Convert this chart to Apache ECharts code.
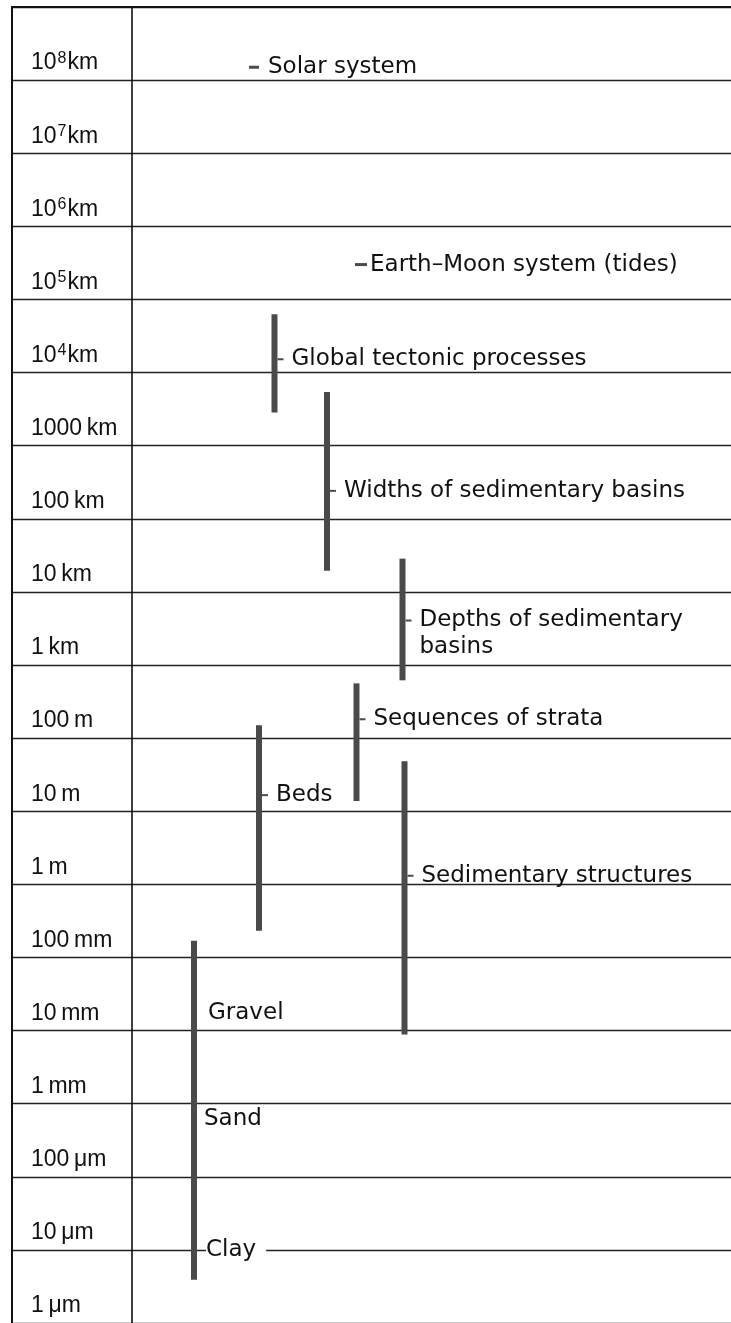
<!DOCTYPE html>
<html>
<head>
<meta charset="utf-8">
<script src="https://cdn.jsdelivr.net/npm/echarts@6/dist/echarts.min.js"></script>
<style>
html,body{margin:0;padding:0;background:#fff;}
#c{width:731px;height:1323px;}
</style>
</head>
<body>
<div id="c"></div>
<script>
// ---------------- data (lengths in metres) ----------------
const scaleLabels = ['1 μm','10 μm','100 μm','1 mm','10 mm','100 mm','1 m','10 m','100 m',
  '1 km','10 km','100 km','1000 km','10^4 km','10^5 km','10^6 km','10^7 km','10^8 km'];
const scaleMinExp = -6;
const scaleMaxExp = 12;

const rangeNames = ['Global tectonic processes','Widths of sedimentary basins',
  'Depths of sedimentary\nbasins','Sequences of strata','Beds','Sedimentary structures'];
const rangeLow     = [2.84e6, 1.95e4, 617, 13.8, 0.232, 0.0088];
const rangeHigh    = [6.27e7, 5.41e6, 2.85e4, 561, 150, 48.4];
const rangeLabelAt = [1.52e7, 2.41e5, 4.06e3, 181, 16.6, 1.31];

const grainLow = 3.89e-6;
const grainHigh = 0.169;
const grainClasses = ['Gravel','Sand','Clay'];
const grainLabelAt = [0.0176, 6.1e-4, 1e-5];

const pointNames  = ['Solar system','Earth–Moon system (tides)'];
const pointValues = [1.5e11, 3.0e8];

// ---------------- layout (page x positions) ----------------
const layout = {
  divider: 132,
  rangeX: [274.5, 327, 402.5, 356.5, 259, 404.5],
  grainX: 194,
  grainLabelX: [208, 204, 206],
  pointDashX: [249, 355],
  pointDashW: [10, 12],
  pointTextX: [268, 370]
};
const BAR = '#4a4a4a';
const TXT = '#111111';
const LINE = '#222222';
const ANN_FONT = '23px "DejaVu Sans"';
const LH = 27;

const lg = v => Math.log10(v);

const rangeData = rangeNames.map((n, i) => [layout.rangeX[i], lg(rangeLow[i]), lg(rangeHigh[i]), lg(rangeLabelAt[i]), i]);
const grainData = [[layout.grainX, lg(grainLow), lg(grainHigh)]];
const grainLabelData = grainClasses.map((c, i) => [layout.grainLabelX[i], lg(grainLabelAt[i]), i]);
const pointData = pointNames.map((n, i) => [layout.pointDashX[i], lg(pointValues[i]), i]);

function axisLabelFmt(v) {
  const e = Math.round(v);
  const t = scaleLabels[e - scaleMinExp];
  if (!t) return '';
  const m = t.match(/^10\^(\d+) (\w+)$/);
  if (m) return '{n|10}{s|' + m[1] + '}{n|' + m[2] + '}';
  return '{n|' + t.replace(' ', '\u2009') + '}';
}

const chart = echarts.init(document.getElementById('c'), null, {renderer: 'canvas'});
chart.setOption({
  animation: false,
  backgroundColor: '#ffffff',
  grid: {left: 12, right: 0, top: 7, height: 1319, containLabel: false},
  xAxis: {
    type: 'value', min: 12, max: 731, position: 'top',
    axisLine: {show: true, onZero: false, lineStyle: {color: '#111', width: 2}},
    axisTick: {show: false},
    axisLabel: {show: false},
    splitLine: {show: false}
  },
  yAxis: {
    type: 'value', min: scaleMinExp, max: scaleMaxExp, interval: 1,
    axisLine: {show: true, onZero: false, lineStyle: {color: '#111', width: 2}},
    axisTick: {show: false},
    splitLine: {show: true, lineStyle: {color: LINE, width: 1.3}},
    axisLabel: {
      inside: true,
      margin: 19,
      align: 'left',
      verticalAlign: 'bottom',
      padding: [0, 0, 4, 0],
      showMinLabel: true,
      showMaxLabel: true,
      formatter: axisLabelFmt,
      rich: {
        n: {fontFamily: '"Liberation Sans"', fontSize: 23, lineHeight: 26, color: TXT},
        s: {fontFamily: '"Liberation Sans"', fontSize: 16, lineHeight: 10, verticalAlign: 'top', color: TXT, padding: [0, 1, 0, 1]}
      }
    }
  },
  series: [
    {
      type: 'line', silent: true, showSymbol: false,
      lineStyle: {color: '#111', width: 1.6},
      data: [[layout.divider, scaleMinExp], [layout.divider, scaleMaxExp]],
      z: 3
    },
    {
      type: 'custom', silent: true, z: 5,
      data: rangeData,
      renderItem: function (params, api) {
        const x = api.value(0), lo = api.value(1), hi = api.value(2), at = api.value(3), idx = api.value(4);
        const pTop = api.coord([x, hi]), pBot = api.coord([x, lo]), pAt = api.coord([x, at]);
        const w = 6;
        return {
          type: 'group',
          children: [
            {type: 'rect', shape: {x: pTop[0] - w / 2, y: pTop[1], width: w, height: pBot[1] - pTop[1]}, style: {fill: BAR}},
            {type: 'rect', shape: {x: pTop[0] + w / 2, y: pAt[1] - 1, width: 6, height: 2}, style: {fill: BAR}},
            {type: 'text', x: pTop[0] + 17, y: pAt[1] - LH / 2,
              style: {text: rangeNames[idx], fill: TXT, font: ANN_FONT, lineHeight: LH, align: 'left', verticalAlign: 'top'}}
          ]
        };
      }
    },
    {
      type: 'custom', silent: true, z: 5,
      data: grainData,
      renderItem: function (params, api) {
        const x = api.value(0), lo = api.value(1), hi = api.value(2);
        const pTop = api.coord([x, hi]), pBot = api.coord([x, lo]);
        const w = 6;
        return {type: 'rect', shape: {x: pTop[0] - w / 2, y: pTop[1], width: w, height: pBot[1] - pTop[1]}, style: {fill: BAR}};
      }
    },
    {
      type: 'custom', silent: true, z: 6,
      data: grainLabelData,
      renderItem: function (params, api) {
        const x = api.value(0), y = api.value(1), idx = api.value(2);
        const p = api.coord([x, y]);
        return {type: 'text', x: p[0], y: p[1] - LH / 2,
          style: {text: grainClasses[idx], fill: TXT, font: ANN_FONT, lineHeight: LH, align: 'left', verticalAlign: 'top',
            backgroundColor: idx === 2 ? '#ffffff' : null, padding: idx === 2 ? [0, 10, 0, 0] : 0}};
      }
    },
    {
      type: 'custom', silent: true, z: 5,
      data: pointData,
      renderItem: function (params, api) {
        const x = api.value(0), y = api.value(1), idx = api.value(2);
        const p = api.coord([x, y]);
        return {
          type: 'group',
          children: [
            {type: 'rect', shape: {x: p[0], y: p[1] - 1.5, width: layout.pointDashW[idx], height: 3}, style: {fill: BAR}},
            {type: 'text', x: layout.pointTextX[idx], y: p[1] - LH / 2,
              style: {text: pointNames[idx], fill: TXT, font: ANN_FONT, lineHeight: LH, align: 'left', verticalAlign: 'top'}}
          ]
        };
      }
    }
  ]
});
</script>
</body>
</html>
